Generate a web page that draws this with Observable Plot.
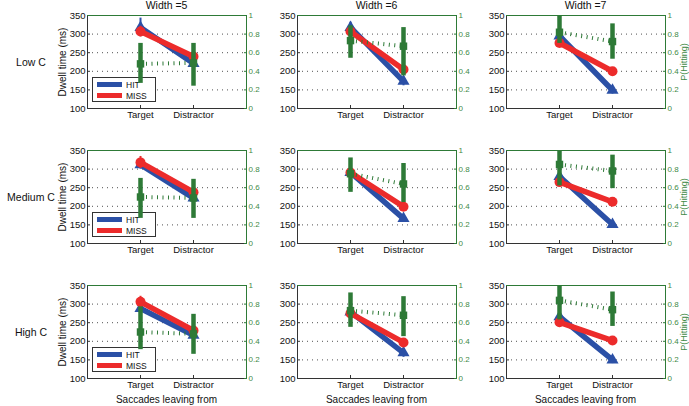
<!DOCTYPE html>
<html><head><meta charset="utf-8">
<script src="https://cdn.jsdelivr.net/npm/d3@7"></script>
<script src="https://cdn.jsdelivr.net/npm/@observablehq/plot@0.6"></script>
<style>
body{margin:0;background:#fff;font-family:"Liberation Sans",Arial,sans-serif;}
#root{position:relative;width:689px;height:406px;overflow:hidden;background:#fff;}
.lbl{position:absolute;font-size:10.5px;color:#111;white-space:nowrap;transform:translate(-50%,-50%);line-height:1;}
.vlbl{position:absolute;font-size:10px;color:#111;white-space:nowrap;transform:translate(-50%,-50%) rotate(-90deg);line-height:1;}
.legend{position:absolute;width:62px;height:23px;border:1px solid #333;background:#fff;font-size:8.5px;color:#111;}
.legend .row{position:absolute;left:4px;height:11px;display:flex;align-items:center;}
.legend .sw{width:25px;height:5px;margin-right:4px;}
svg{position:absolute;}
</style></head>
<body><div id="root"></div>
<script>
// ---- data ----
const rowLabels = ["Low C", "Medium C", "High C"];
const colTitles = ["Width =5", "Width =6", "Width =7"];
const locations = ["Target", "Distractor"];
const xPos = [1, 2];
const xDomain = [0, 3];
const dwellDomain = [100, 350];
const dwellTicks = [100, 150, 200, 250, 300, 350];
const gridTicks = [150, 200, 250, 300];
const pTicks = [0, 0.2, 0.4, 0.6, 0.8, 1];
const pTickLabels = ["0", "0.2", "0.4", "0.6", "0.8", "1"];
const seriesNames = ["HIT", "MISS"];

// dwell time (ms): [row][width] -> [Target, Distractor]
const hitDwell = [
  [[318, 221], [318, 173], [295, 149]],
  [[312, 222], [291, 167], [280, 151]],
  [[288, 216], [279, 169], [266, 150]]];
const hitErr = [
  [[25, 9], [14, 12], [12, 10]],
  [[12, 9], [12, 10], [12, 10]],
  [[12, 9], [10, 12], [12, 10]]];
const missDwell = [
  [[307, 240], [307, 205], [276, 200]],
  [[318, 238], [291, 199], [265, 212]],
  [[306, 229], [275, 197], [251, 202]]];
const missErr = [
  [[14, 10], [12, 10], [12, 10]],
  [[16, 10], [10, 10], [12, 10]],
  [[15, 10], [12, 10], [14, 10]]];
// P(Hitting): [row][width] -> [Target, Distractor]
const pHit = [
  [[0.48, 0.49], [0.73, 0.67], [0.82, 0.72]],
  [[0.50, 0.49], [0.75, 0.64], [0.85, 0.78]],
  [[0.50, 0.48], [0.73, 0.68], [0.84, 0.74]]];
const pLow = [
  [[0.27, 0.24], [0.54, 0.35], [0.70, 0.53]],
  [[0.27, 0.27], [0.55, 0.44], [0.62, 0.59]],
  [[0.31, 0.26], [0.55, 0.45], [0.63, 0.56]]];
const pHigh = [
  [[0.70, 0.70], [0.89, 0.87], [1.00, 0.91]],
  [[0.70, 0.69], [0.92, 0.86], [1.00, 0.95]],
  [[0.77, 0.69], [0.92, 0.88], [1.00, 0.93]]];

// ---- style / layout ----
const green = "#2e7a37", greenText = "#3f8a46", blue = "#2b50a6", red = "#ec2b2b";
const colLeft = [87, 297, 506], rowTop = [15, 150, 285];
const frameW = 159, frameH = 93;
const ml = 40, mr = 30, mt = 8, mb = 24;
const W = frameW + ml + mr, H = frameH + mt + mb;
const font = "Liberation Sans, Arial, sans-serif";
const pToDwell = p => dwellDomain[0] + p * (dwellDomain[1] - dwellDomain[0]);
const root = document.getElementById("root");

function common() {
  return {
    width: W, height: H, marginLeft: ml, marginRight: mr, marginTop: mt, marginBottom: mb,
    style: {background: "transparent", overflow: "visible", fontFamily: font, fontSize: "9.5px", maxWidth: "none"},
    x: {domain: xDomain, axis: null},
    y: {domain: dwellDomain, axis: null}
  };
}

function label(text, x, y, cls, color, size) {
  const d = document.createElement("div");
  d.className = cls; d.textContent = text;
  d.style.left = x + "px"; d.style.top = y + "px";
  if (color) d.style.color = color;
  if (size) d.style.fontSize = size;
  root.appendChild(d);
}

for (let r = 0; r < 3; r++) {
  for (let c = 0; c < 3; c++) {
    const hit = xPos.map((x, i) => ({x, y: hitDwell[r][c][i], e: hitErr[r][c][i]}));
    const miss = xPos.map((x, i) => ({x, y: missDwell[r][c][i], e: missErr[r][c][i]}));
    const ph = xPos.map((x, i) => ({x, y: pToDwell(pHit[r][c][i]), lo: pToDwell(pLow[r][c][i]), hi: pToDwell(pHigh[r][c][i])}));

    const base = Plot.plot({
      ...common(),
      marks: [
        Plot.gridY(gridTicks, {stroke: "#333", strokeOpacity: 0.85, strokeDasharray: "1,4"}),
        Plot.ruleX(hit, {x: "x", y1: d => d.y - d.e, y2: d => d.y + d.e, stroke: blue, strokeWidth: 2}),
        Plot.line(hit, {x: "x", y: "y", stroke: blue, strokeWidth: 5.5}),
        Plot.dot(hit, {x: "x", y: "y", symbol: "triangle", fill: blue, r: 4.5}),
        Plot.ruleX(miss, {x: "x", y1: d => d.y - d.e, y2: d => d.y + d.e, stroke: red, strokeWidth: 2}),
        Plot.line(miss, {x: "x", y: "y", stroke: red, strokeWidth: 5.5}),
        Plot.dot(miss, {x: "x", y: "y", symbol: "circle", fill: red, r: 5}),
        Plot.frame({stroke: "#333"}),
        Plot.axisY(dwellTicks, {anchor: "left", label: null, tickSize: -3, tickPadding: 5, stroke: "#333", fill: "#111"}),
        Plot.axisX(xPos, {anchor: "bottom", label: null, tickSize: -3, tickPadding: 6, stroke: "#333", fill: "#111",
          tickFormat: v => locations[xPos.indexOf(v)]})
      ]
    });
    base.style.left = (colLeft[c] - ml) + "px";
    base.style.top = (rowTop[r] - mt) + "px";
    root.appendChild(base);

    if (c === 0) {
      const lg = document.createElement("div");
      lg.className = "legend";
      lg.style.left = (colLeft[c] + 5) + "px";
      lg.style.top = (rowTop[r] + frameH - 6 - 25) + "px";
      [blue, red].forEach((col, i) => {
        const row = document.createElement("div");
        row.className = "row";
        row.style.top = (1 + i * 11) + "px";
        const sw = document.createElement("div");
        sw.className = "sw"; sw.style.background = col;
        const t = document.createElement("span");
        t.textContent = seriesNames[i];
        row.appendChild(sw); row.appendChild(t);
        lg.appendChild(row);
      });
      root.appendChild(lg);
    }

    const over = Plot.plot({
      ...common(),
      marks: [
        Plot.ruleY([dwellDomain[1]], {stroke: green}),
        Plot.ruleX([xDomain[1]], {stroke: green}),
        Plot.axisY(pTicks.map(pToDwell), {anchor: "right", label: null, tickSize: -3, tickPadding: 5, stroke: green, fill: greenText,
          fontSize: 8, tickFormat: v => pTickLabels[pTicks.map(pToDwell).indexOf(v)]}),
        Plot.line(ph, {x: "x", y: "y", stroke: green, strokeWidth: 4, strokeDasharray: "1,4.5", strokeLinecap: "butt"}),
        Plot.ruleX(ph, {x: "x", y1: "lo", y2: "hi", stroke: green, strokeWidth: 4.5}),
        Plot.dot(ph, {x: "x", y: "y", symbol: "square", fill: green, r: 4.2})
      ]
    });
    over.style.left = (colLeft[c] - ml) + "px";
    over.style.top = (rowTop[r] - mt) + "px";
    root.appendChild(over);
  }
}

// titles and labels
colTitles.forEach((t, c) => label(t, colLeft[c] + frameW / 2, 5, "lbl"));
rowLabels.forEach((t, r) => label(t, 31, rowTop[r] + frameH / 2, "lbl"));
rowTop.forEach(t => label("Dwell time (ms)", 63, t + frameH / 2, "vlbl"));
rowTop.forEach(t => label("P(Hitting)", 684, t + frameH / 2, "vlbl", greenText, "9px"));
colLeft.forEach(l => label("Saccades leaving from", l + frameW / 2, 400, "lbl", null, "10px"));
</script>
</body></html>
